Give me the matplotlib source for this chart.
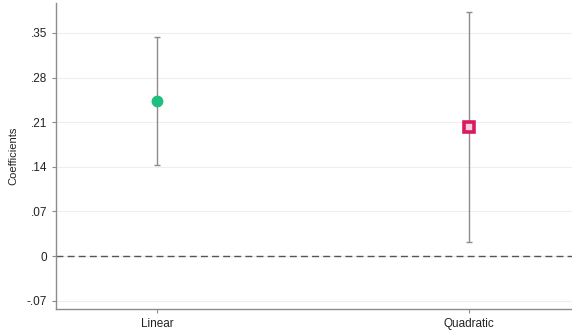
import matplotlib
matplotlib.use("Agg")
import matplotlib.pyplot as plt
from matplotlib.ticker import FuncFormatter

# Coefficient estimates with confidence intervals
models = ["Linear", "Quadratic"]
coef = [0.243, 0.203]
ci_low = [0.143, 0.0225]
ci_high = [0.344, 0.383]
yticks = [-0.07, 0, 0.07, 0.14, 0.21, 0.28, 0.35]

plt.rcParams["font.family"] = ["Liberation Sans", "DejaVu Sans"]

fig = plt.figure(figsize=(5.72, 3.33), dpi=100)
ax = fig.add_axes([0.098, 0.072, 0.902, 0.919])

xs = [1, 2]
for x, c, lo, hi in zip(xs, coef, ci_low, ci_high):
    ax.errorbar([x], [c], yerr=[[c - lo], [hi - c]], fmt="none",
                ecolor="#8c8c8c", elinewidth=1.0, capsize=2.5, capthick=1.0,
                zorder=2)

ax.plot([xs[0]], [coef[0]], "o", color="#1fbf80", markersize=7.5, zorder=3)
ax.plot([xs[1]], [coef[1]], "s", markerfacecolor="#f4d0dc",
        markeredgecolor="#d81b60", markeredgewidth=2.6, markersize=6.5, zorder=3)

ax.axhline(0, color="#555555", linestyle=(0, (5, 3)), linewidth=1.0, zorder=1)

ax.set_xlim(0.676, 2.33)
ax.set_ylim(-0.083, 0.397)
ax.set_xticks(xs)
ax.set_xticklabels(models)
ax.set_yticks(yticks)


def fmt(v, pos):
    if abs(v) < 1e-9:
        return "0"
    s = f"{v:.2f}"
    return s.replace("0.", ".")


ax.yaxis.set_major_formatter(FuncFormatter(fmt))
ax.grid(axis="y", color="#eeeeee", linewidth=0.8, zorder=0)
ax.set_axisbelow(True)

for side in ["top", "right"]:
    ax.spines[side].set_visible(False)
for side in ["left", "bottom"]:
    ax.spines[side].set_color("#8c8c8c")
    ax.spines[side].set_linewidth(1.0)

ax.tick_params(axis="both", colors="#8c8c8c", length=3, width=0.8,
               labelcolor="#222222", labelsize=8.5)
ax.set_ylabel("Coefficients", fontsize=8, color="#222222", labelpad=6)

fig.savefig("out.png", dpi=100)
